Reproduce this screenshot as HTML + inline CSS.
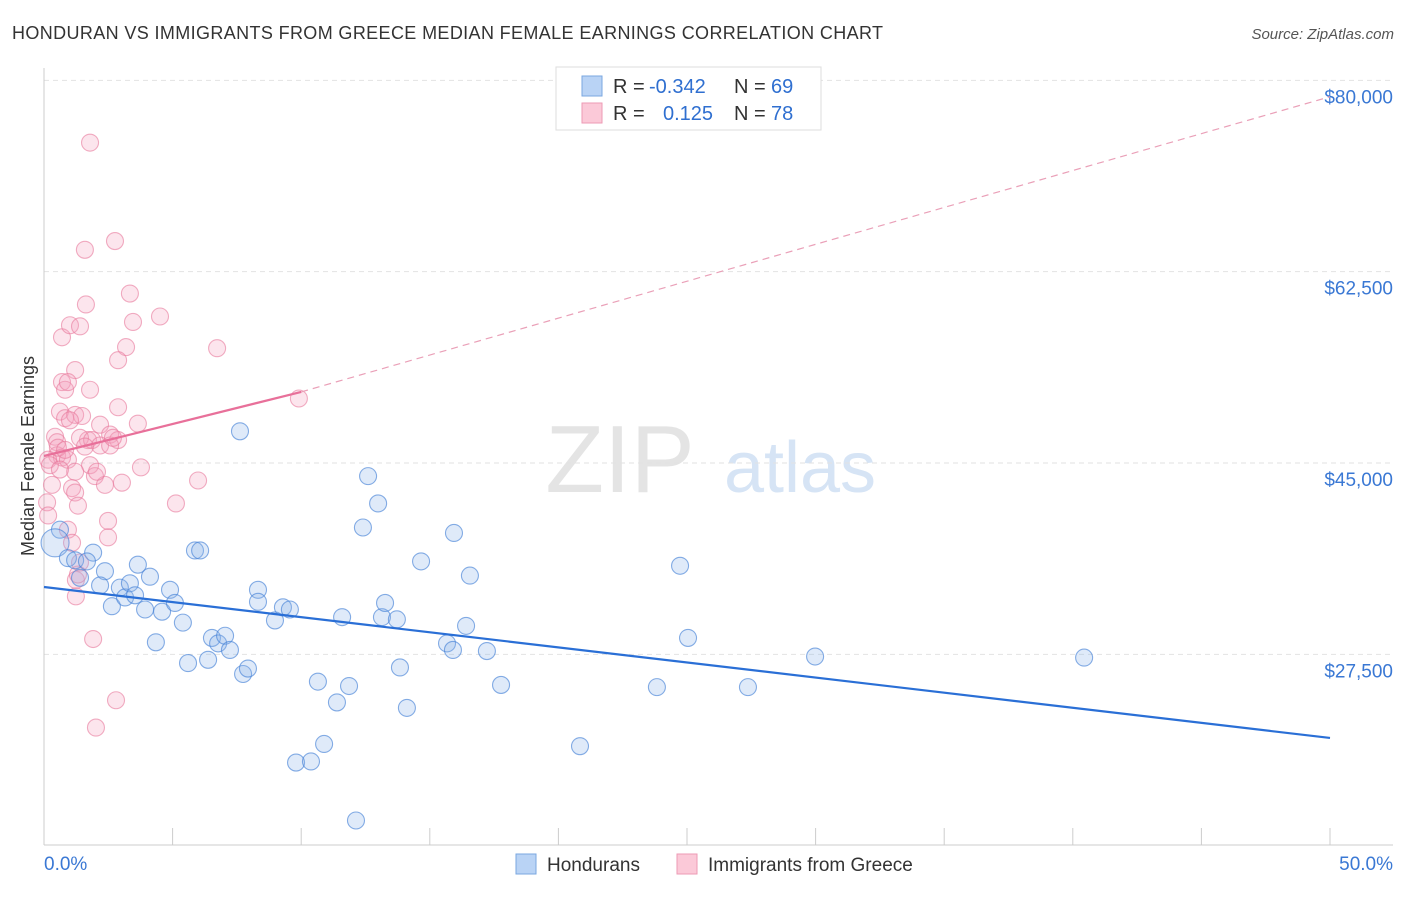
<!DOCTYPE html>
<html><head><meta charset="utf-8"><style>
body{margin:0;background:#fff;font-family:"Liberation Sans",sans-serif;}
svg text{font-family:"Liberation Sans",sans-serif;}
</style></head><body>
<svg width="1406" height="892" xmlns="http://www.w3.org/2000/svg">
<text x="12" y="39" font-size="18" fill="#333" textLength="871">HONDURAN VS IMMIGRANTS FROM GREECE MEDIAN FEMALE EARNINGS CORRELATION CHART</text>
<text x="1394" y="39" font-size="15" fill="#555" text-anchor="end" font-style="italic">Source: ZipAtlas.com</text>
<text x="620" y="492" font-size="96" fill="#e4e4e4" font-family="Liberation Serif" text-anchor="middle">ZIP</text>
<text x="800" y="492" font-size="72" fill="#d6e4f5" text-anchor="middle">atlas</text>
<g id="grid"></g>
<g id="axes"></g>
<g id="pts"></g>
<g id="trends"></g>
<text transform="translate(34,456) rotate(-90)" font-size="18" fill="#333" text-anchor="middle">Median Female Earnings</text>
<g>
<rect x="556" y="67" width="265" height="63" fill="#fff" stroke="#ddd"/>
<rect x="582" y="76" width="20" height="20" fill="#b9d3f5" stroke="#7aa7e0"/>
<rect x="582" y="103" width="20" height="20" fill="#fbc9d8" stroke="#ee9ab4"/>
<text x="613" y="93" font-size="20" fill="#333">R =</text>
<text x="649" y="93" font-size="20" fill="#2f6fd0">-0.342</text>
<text x="734" y="93" font-size="20" fill="#333">N =</text>
<text x="771" y="93" font-size="20" fill="#2f6fd0">69</text>
<text x="613" y="120" font-size="20" fill="#333">R =</text>
<text x="663" y="120" font-size="20" fill="#2f6fd0">0.125</text>
<text x="734" y="120" font-size="20" fill="#333">N =</text>
<text x="771" y="120" font-size="20" fill="#2f6fd0">78</text>
</g>
<g>
<rect x="516" y="854" width="20" height="20" fill="#b9d3f5" stroke="#7aa7e0"/>
<text x="547" y="871" font-size="19" fill="#333">Hondurans</text>
<rect x="677" y="854" width="20" height="20" fill="#fbc9d8" stroke="#ee9ab4"/>
<text x="708" y="871" font-size="19" fill="#333">Immigrants from Greece</text>
</g>
</svg>
<script>
const blueX=[0.62,0.43,0.93,1.21,1.91,1.67,2.37,1.40,2.18,2.95,2.64,3.15,3.34,3.65,4.12,4.59,4.90,5.09,5.40,4.35,5.60,5.87,6.07,6.38,6.53,6.77,7.04,7.23,7.74,7.93,7.62,8.32,8.32,8.98,9.29,9.56,9.80,10.38,10.65,10.89,11.39,11.59,11.86,12.13,12.40,12.60,12.99,13.14,13.26,13.72,13.84,14.11,14.66,15.67,15.90,15.94,16.41,16.56,17.22,17.77,20.84,23.83,24.73,25.04,27.37,29.98,40.44,3.54,3.93];
const blueY=[38.9,37.7,36.3,36.1,36.8,36.0,35.1,34.5,33.8,33.6,31.9,32.7,34.0,35.7,34.6,31.4,33.4,32.2,30.4,28.6,26.7,37.0,37.0,27.0,29.0,28.5,29.2,27.9,25.7,26.2,47.9,33.4,32.3,30.6,31.8,31.6,17.6,17.7,25.0,19.3,23.1,30.9,24.6,12.3,39.1,43.8,41.3,30.9,32.2,30.7,26.3,22.6,36.0,28.5,27.9,38.6,30.1,34.7,27.8,24.7,19.1,24.5,35.6,29.0,24.5,27.3,27.2,32.9,31.6];
const pinkX=[1.79,1.59,2.76,0.70,1.01,1.40,1.63,3.34,3.46,4.51,6.73,3.19,2.88,1.21,0.70,0.82,1.79,0.93,9.91,2.88,3.65,0.62,0.82,1.21,1.48,1.01,2.18,2.57,1.71,0.43,0.51,1.40,1.87,2.18,2.88,0.51,0.70,0.16,0.23,0.93,1.79,1.21,1.98,1.09,1.21,2.37,3.03,3.77,5.99,5.13,1.32,0.12,2.49,0.16,0.93,1.09,2.49,1.24,1.32,1.40,1.24,1.91,2.80,2.02,0.54,0.82,0.31,1.59,2.06,2.57,2.68,0.62];
const pinkY=[74.3,64.5,65.3,56.5,57.6,57.5,59.5,60.5,57.9,58.4,55.5,55.6,54.4,53.5,52.4,51.7,51.7,52.4,50.9,50.1,48.6,49.7,49.1,49.4,49.3,48.9,48.5,47.6,47.1,47.4,46.9,47.3,47.1,46.6,47.1,45.7,45.5,45.3,44.8,45.3,44.8,44.2,43.8,42.7,42.3,43.0,43.2,44.6,43.4,41.3,41.1,41.4,39.7,40.2,38.9,37.7,38.2,34.3,34.8,35.9,32.8,28.9,23.3,20.8,46.4,46.2,43.0,46.5,44.2,46.6,47.3,44.4];
const yTicks=[27.5,45,62.5,80];
const yTickLabels=["$27,500","$45,000","$62,500","$80,000"];
const xTicks=[0,5,10,15,20,25,30,35,40,45,50];
const blueTrend=[[0,33.66],[50,19.85]];
const pinkTrend=[[0,45.64],[10,51.5],[50,78.5]];
const NS="http://www.w3.org/2000/svg";
const X=v=>44+v*25.72, Y=v=>463-(v-45)*10.933;
function mk(t,a,p){const e=document.createElementNS(NS,t);for(const k in a)e.setAttribute(k,a[k]);p.appendChild(e);return e;}
const grid=document.getElementById('grid'),axes=document.getElementById('axes'),pts=document.getElementById('pts'),tr=document.getElementById('trends');
yTicks.forEach((t,i)=>{
 const l=mk('line',{x1:44,x2:1393,y1:Y(t),y2:Y(t),stroke:'#e2e2e2','stroke-dasharray':'5,4'},grid);
 
 
 const tx=mk('text',{x:1393,y:Y(t)+23,'font-size':19,fill:'#3a78d4','text-anchor':'end'},axes);
 tx.textContent=yTickLabels[i];
 
 
});
mk('line',{x1:44,x2:44,y1:68,y2:845,stroke:'#ccc'},axes);
mk('line',{x1:44,x2:1393,y1:845,y2:845,stroke:'#ccc'},axes);
xTicks.forEach(t=>{
 const l=mk('line',{x1:X(t),x2:X(t),y1:828,y2:845,stroke:'#ccc'},axes);
 
 
});
const x0=mk('text',{x:44,y:870,'font-size':19,fill:'#3a78d4'},axes);x0.textContent='0.0%';


const x1=mk('text',{x:1393,y:870,'font-size':19,fill:'#3a78d4','text-anchor':'end'},axes);x1.textContent='50.0%';


pinkX.forEach((v,i)=>{
 const c=mk('circle',{cx:X(v),cy:Y(pinkY[i]),r:8.5,fill:'rgba(246,160,190,0.28)',stroke:'rgba(232,120,155,0.6)','stroke-width':1.1},pts);
 
 
});
blueX.forEach((v,i)=>{
 const c=mk('circle',{cx:X(v),cy:Y(blueY[i]),r:i==1?14:8.5,fill:'rgba(140,180,235,0.28)',stroke:'rgba(70,130,215,0.65)','stroke-width':1.1},pts);
 
 
});
const bl=mk('line',{x1:X(blueTrend[0][0]),y1:Y(blueTrend[0][1]),x2:X(blueTrend[1][0]),y2:Y(blueTrend[1][1]),stroke:'#2a6fd6','stroke-width':2.2},tr);


const ps=mk('line',{x1:X(pinkTrend[0][0]),y1:Y(pinkTrend[0][1]),x2:X(pinkTrend[1][0]),y2:Y(pinkTrend[1][1]),stroke:'#e8709a','stroke-width':2.2},tr);


const pd=mk('line',{x1:X(pinkTrend[1][0]),y1:Y(pinkTrend[1][1]),x2:X(pinkTrend[2][0]),y2:Y(pinkTrend[2][1]),stroke:'#eaa0b8','stroke-width':1.2,'stroke-dasharray':'7,5'},tr);


</script>
</body></html>
